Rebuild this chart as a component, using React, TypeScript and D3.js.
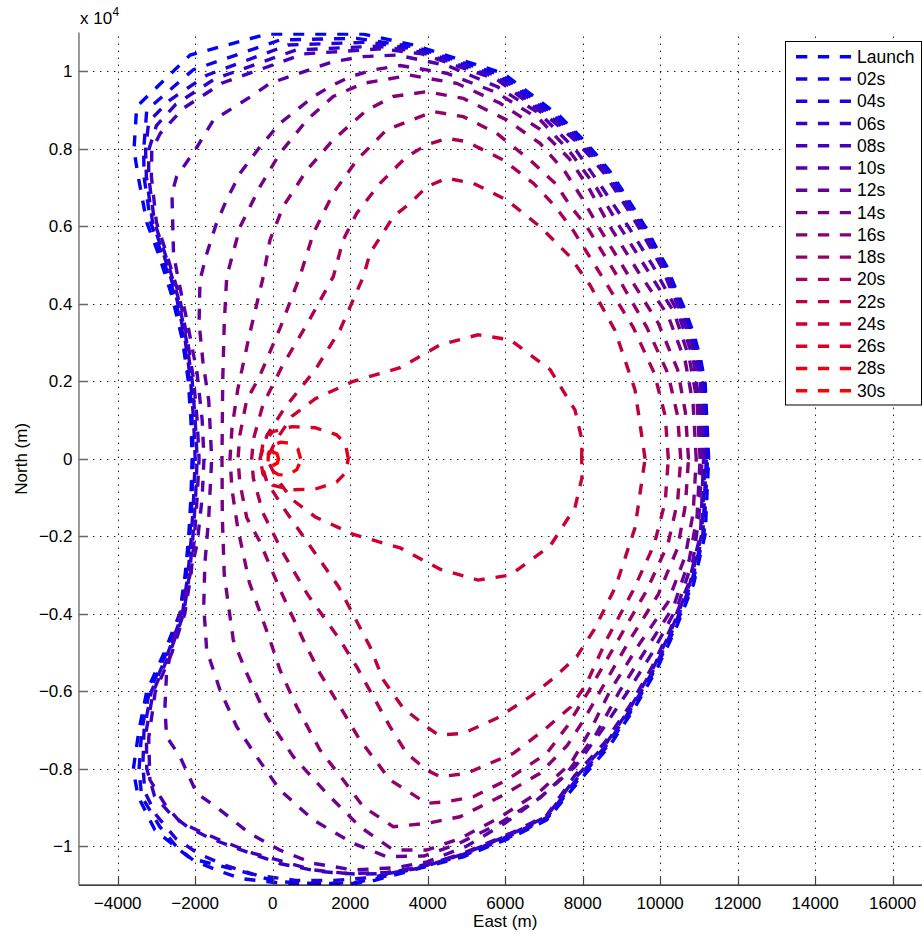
import React from "react";
import * as d3 from "d3";

type P = [number, number];

const seriesNames = ["Launch","02s","04s","06s","08s","10s","12s","14s","16s","18s","20s","22s","24s","26s","28s","30s"];
const seriesColors = ["#0000ff","#1100ee","#2200dd","#3300cc","#4400bb","#5500aa","#660099","#770088","#880077","#990066","#aa0055","#bb0044","#cc0033","#dd0022","#ee0011","#ff0000"];

const xTicks = [-4000,-2000,0,2000,4000,6000,8000,10000,12000,14000,16000];
const xTickLabels = ["\u22124000","\u22122000","0","2000","4000","6000","8000","10000","12000","14000","16000"];
const yTicks = [-10000,-8000,-6000,-4000,-2000,0,2000,4000,6000,8000,10000];
const yTickLabels = ["\u22121","\u22120.8","\u22120.6","\u22120.4","\u22120.2","0","0.2","0.4","0.6","0.8","1"];

const launch: P[] = [[11250,0],[11160,1950],[11030,2640],[10860,3240],[10640,3850],[10380,4440],[10170,4960],[9910,5430],[9650,5930],[9340,6430],[9010,6950],[8710,7410],[8360,7840],[7980,8270],[7420,8830],[5950,9950],[3630,10680],[2340,10960],[-150,10960],[-2130,10420],[-3510,9090],[-3580,7970],[-3470,7280],[-3250,6100],[-2950,5300],[-2600,4200],[-2330,3070],[-2180,2030],[-2110,1000],[-2080,0],[-2110,-1000],[-2170,-2030],[-2260,-3000],[-2400,-4000],[-2800,-5000],[-3250,-6000],[-3450,-7000],[-3600,-8030],[-3470,-8720],[-3040,-9580],[-2130,-10310],[-930,-10610],[100,-10910],[1050,-10960],[2080,-10960],[2510,-10910],[3630,-10610],[4920,-10270],[6210,-9750],[7070,-9320],[7930,-8290],[8700,-7400],[9340,-6430],[9910,-5430],[10380,-4440],[10860,-3240],[11160,-1950]];
const s02: P[] = [[11220,0],[11130,1950],[11000,2630],[10830,3230],[10610,3840],[10350,4430],[10140,4950],[9880,5420],[9620,5920],[9310,6420],[8980,6930],[8680,7390],[8330,7820],[7950,8250],[7380,8800],[5900,9900],[3700,10620],[2170,10850],[190,10810],[-2050,10040],[-3250,9000],[-3330,7970],[-3320,7280],[-3150,6100],[-2870,5300],[-2530,4200],[-2290,3070],[-2150,2030],[-2080,1000],[-2050,0],[-2080,-1000],[-2140,-2030],[-2230,-3000],[-2360,-4000],[-2740,-5000],[-3180,-6000],[-3380,-7000],[-3450,-8030],[-3380,-8720],[-2910,-9500],[-2480,-10010],[-2050,-10360],[-1450,-10610],[-840,-10830],[200,-10950],[1050,-10960],[2080,-10940],[2600,-10850],[3630,-10580],[4920,-10240],[6210,-9720],[7070,-9290],[7900,-8260],[8670,-7380],[9310,-6420],[9880,-5420],[10350,-4430],[10830,-3230],[11130,-1950]];
const s04: P[] = [[11190,0],[11100,1950],[10970,2620],[10800,3220],[10580,3830],[10320,4420],[10110,4940],[9850,5410],[9590,5900],[9280,6400],[8950,6910],[8650,7370],[8300,7800],[7920,8230],[7340,8770],[5870,9860],[3750,10560],[2500,10750],[400,10680],[-1700,9900],[-2650,9260],[-3200,8700],[-3280,7970],[-3260,7280],[-3100,6100],[-2820,5300],[-2490,4200],[-2260,3070],[-2120,2030],[-2040,1000],[-2000,0],[-2040,-1000],[-2100,-2030],[-2190,-3000],[-2330,-4000],[-2700,-5000],[-3130,-6000],[-3320,-7000],[-3350,-7900],[-3300,-8600],[-3000,-9200],[-2500,-9800],[-1900,-10200],[-1200,-10500],[-400,-10750],[600,-10880],[1600,-10880],[2600,-10800],[3630,-10550],[4920,-10210],[6210,-9690],[7070,-9260],[7870,-8230],[8640,-7360],[9280,-6400],[9850,-5410],[10320,-4420],[10800,-3220],[11100,-1950]];
const s06: P[] = [[11160,0],[11070,1950],[10940,2610],[10770,3210],[10550,3820],[10290,4410],[10080,4930],[9820,5400],[9560,5890],[9250,6390],[8920,6890],[8620,7350],[8270,7780],[7880,8200],[7290,8730],[5830,9820],[3800,10500],[2700,10650],[600,10550],[-1500,9800],[-2500,9150],[-3000,8600],[-3200,7970],[-3200,7280],[-3050,6100],[-2780,5300],[-2450,4200],[-2230,3070],[-2080,2030],[-2000,1000],[-1950,0],[-1990,-1000],[-2060,-2030],[-2150,-3000],[-2300,-4000],[-2650,-5000],[-3080,-6000],[-3260,-7000],[-3250,-8000],[-3050,-8700],[-2650,-9150],[-2200,-9500],[-1600,-9800],[-800,-10100],[200,-10450],[1200,-10650],[2200,-10720],[3000,-10700],[3800,-10560],[4920,-10200],[6210,-9660],[7070,-9230],[7840,-8200],[8610,-7340],[9250,-6390],[9820,-5400],[10290,-4410],[10770,-3210],[11070,-1950]];
const s08: P[] = [[11120,0],[11040,1950],[10910,2600],[10740,3200],[10520,3810],[10260,4400],[10050,4920],[9780,5390],[9500,5880],[9200,6380],[8880,6870],[8580,7330],[8230,7760],[7840,8180],[7250,8700],[5800,9780],[3850,10450],[2800,10580],[800,10450],[-1300,9700],[-2300,9050],[-2900,8400],[-3120,7970],[-3130,7280],[-3000,6100],[-2740,5300],[-2410,4200],[-2200,3070],[-2040,2030],[-1950,1000],[-1900,0],[-1950,-1000],[-2020,-2030],[-2110,-3000],[-2270,-4000],[-2600,-5000],[-3030,-6000],[-3200,-7200],[-3170,-8285],[-2740,-8980],[-2390,-9370],[-1960,-9580],[-1360,-9840],[-500,-10180],[1050,-10610],[1910,-10700],[2900,-10680],[3800,-10540],[4920,-10180],[6210,-9630],[7070,-9200],[7800,-8170],[8570,-7320],[9210,-6380],[9780,-5390],[10260,-4400],[10740,-3200],[11040,-1950]];
const s10: P[] = [[11080,0],[11000,1500],[10850,2600],[10450,3800],[9800,5000],[9170,6000],[8500,7000],[7800,8000],[6900,8900],[5800,9600],[4500,10150],[3200,10420],[2340,10380],[1560,10250],[-70,9690],[-500,9390],[-1530,8740],[-2000,7970],[-2480,7280],[-2600,6850],[-2560,5300],[-2450,4700],[-2200,3500],[-1950,2200],[-1820,1000],[-1773,0],[-1820,-1000],[-1950,-2200],[-2250,-3500],[-2565,-4680],[-2740,-5540],[-2780,-6400],[-2740,-7170],[-2390,-7690],[-1960,-8630],[-1360,-9060],[-590,-9670],[190,-10100],[1050,-10440],[2080,-10610],[3200,-10550],[3980,-10400],[5000,-10000],[6000,-9400],[6950,-8700],[7800,-7950],[8500,-7000],[9170,-6000],[9800,-5000],[10450,-3800],[10850,-2600],[11000,-1500]];
const s12: P[] = [[11030,0],[10950,1500],[10750,2600],[10350,3800],[9650,4900],[8950,6000],[8350,7000],[7650,7950],[6900,8750],[5780,9450],[4490,9950],[3290,10150],[2600,10035],[2000,9860],[1560,9650],[1050,9350],[620,9000],[190,8660],[-330,8050],[-840,7370],[-1190,6680],[-1450,6080],[-1700,5300],[-1876,4614],[-1900,3500],[-1800,2500],[-1650,1500],[-1574,0],[-1650,-1500],[-1750,-2700],[-1780,-3800],[-1704,-4935],[-1360,-5967],[-929,-6914],[-413,-7689],[188,-8548],[1048,-9322],[2080,-9924],[2942,-10269],[3900,-10250],[4749,-9950],[5781,-9450],[6899,-8750],[7600,-8100],[8350,-7100],[8950,-6000],[9650,-4900],[10350,-3800],[10750,-2600],[10950,-1500]];
const s14: P[] = [[10930,0],[10850,1400],[10650,2500],[10200,3700],[9450,4800],[8700,6000],[8150,7000],[7650,7750],[6900,8500],[5870,9175],[4750,9690],[3540,9900],[2340,9690],[1560,9350],[880,8740],[190,7890],[-330,7020],[-840,5990],[-1187,4700],[-1250,3500],[-1290,2000],[-1309,0],[-1300,-1500],[-1250,-3000],[-1017,-4677],[-671,-5536],[-155,-6656],[532,-7689],[1394,-8634],[2253,-9496],[3113,-10097],[3975,-10097],[4834,-9800],[5867,-9250],[6899,-8580],[7700,-7850],[8200,-7000],[8700,-6000],[9450,-4800],[10200,-3700],[10650,-2500],[10850,-1400]];
const s16: P[] = [[10730,0],[10650,1200],[10450,2300],[9950,3500],[9200,4700],[8400,6000],[8000,6700],[7550,7400],[6900,8140],[6040,8744],[4920,9300],[3975,9475],[3110,9350],[2430,9000],[1560,8230],[880,7450],[270,6510],[-70,5650],[-243,4700],[-600,3200],[-900,1800],[-1050,800],[-1102,0],[-1050,-800],[-900,-1800],[-600,-3200],[-70,-4677],[188,-5451],[619,-6398],[1221,-7515],[1822,-8290],[2339,-8979],[3113,-9496],[3975,-9408],[4834,-9238],[5867,-8721],[6899,-8117],[7600,-7400],[8050,-6700],[8450,-6000],[9200,-4700],[9950,-3500],[10450,-2300],[10650,-1200]];
const s18: P[] = [[10530,0],[10450,1100],[10200,2200],[9650,3400],[8900,4700],[8100,6000],[7700,6500],[7300,7100],[6640,7710],[5780,8400],[4920,8830],[4145,8960],[2940,8490],[2170,7710],[1560,6850],[1050,5820],[700,4700],[200,3400],[-350,2100],[-671,1518],[-850,600],[-895,0],[-850,-600],[-671,-1518],[-350,-2100],[200,-3400],[790,-4677],[1221,-5536],[1737,-6398],[2253,-7258],[3027,-8285],[3975,-8892],[4491,-8850],[5178,-8721],[6040,-8290],[7072,-7601],[7600,-6900],[8150,-6000],[8900,-4700],[9650,-3400],[10200,-2200],[10450,-1100]];
const s20: P[] = [[10210,0],[10130,1100],[9850,2200],[9300,3400],[8500,4700],[7750,5900],[7300,6500],[6730,7110],[5950,7710],[5007,8185],[4490,8270],[3975,8100],[3460,7800],[2770,7110],[2170,6340],[1820,5650],[1564,4700],[900,3500],[250,2400],[-250,1400],[-500,500],[-542,0],[-500,-500],[-250,-1400],[250,-2400],[900,-3500],[1737,-4677],[2168,-5366],[2597,-6140],[3027,-6914],[3458,-7601],[3975,-8032],[4318,-8205],[5007,-8117],[6210,-7601],[7000,-7000],[7700,-6398],[8100,-5800],[8600,-4700],[9300,-3400],[9850,-2200],[10130,-1100]];
const s22: P[] = [[9610,0],[9350,1780],[8830,3320],[8190,4480],[7670,5220],[6900,5990],[6040,6680],[5180,7110],[4490,7240],[3975,7020],[3550,6600],[3113,6250],[2511,5304],[2339,4700],[1737,3325],[1100,2300],[300,1300],[-150,600],[-328,0],[-150,-600],[300,-1300],[1000,-2300],[1700,-3300],[2511,-4850],[2855,-5709],[3371,-6440],[3975,-6914],[4275,-7129],[4920,-7085],[5781,-6698],[6641,-6140],[7243,-5665],[7846,-5108],[8300,-4400],[8850,-3300],[9350,-1780]];
const s24: P[] = [[7975,0],[7980,490],[7800,1260],[7160,2300],[6130,3070],[5300,3200],[4320,2940],[3290,2350],[2080,2000],[1100,1550],[500,1100],[100,500],[-150,0],[100,-500],[500,-1050],[1100,-1500],[2080,-1950],[3290,-2300],[4320,-2850],[5300,-3130],[6130,-3000],[7160,-2250],[7800,-1260],[7980,-490]];
const s26: P[] = [[1950,0],[1880,380],[1650,620],[1100,800],[500,830],[0,700],[-250,400],[-320,0],[-250,-400],[0,-680],[500,-800],[1100,-780],[1650,-600],[1880,-360]];
const s28: P[] = [[720,0],[650,250],[450,400],[200,430],[-20,330],[-110,130],[-120,-80],[-30,-300],[150,-410],[400,-420],[620,-280],[700,-100]];
const s30: P[] = [[150,0],[110,130],[20,170],[-40,90],[-40,-80],[30,-160],[120,-110]];

const curves: P[][] = [launch, s02, s04, s06, s08, s10, s12, s14, s16, s18, s20, s22, s24, s26, s28, s30];

const FONT = "'Liberation Sans', Arial, Helvetica, sans-serif";

export default function App() {
  const W = 922, H = 934;
  const x = d3.scaleLinear().domain([-5000, 17000]).range([78.95, 931.45]);
  const y = d3.scaleLinear().domain([-11000, 11000]).range([885.05, 32.55]);
  const [x0, x1] = x.range();
  const [yb, yt] = y.range();
  const line = d3.line<P>().x(d => x(d[0])).y(d => y(d[1])).curve(d3.curveLinearClosed);

  const legX = 785.5, legY = 41.5, legW = 136, legH = 363.5;
  const rowY = (i: number) => 56.7 + i * 22.27;

  return (
    <svg width={W} height={H} style={{ position: "absolute", left: 0, top: 0, background: "#fff" }} fontFamily={FONT}>
      <rect x={0} y={0} width={W} height={H} fill="#fff" />
      <defs>
        <clipPath id="plotclip">
          <rect x={x0} y={yt} width={x1 - x0} height={yb - yt} />
        </clipPath>
      </defs>
      <g stroke="#222" strokeWidth={1} strokeDasharray="1.5 5.5">
        {xTicks.map(t => (
          <line key={"gx" + t} x1={Math.round(x(t)) + 0.5} x2={Math.round(x(t)) + 0.5} y1={yb} y2={yt} />
        ))}
        {yTicks.map(t => (
          <line key={"gy" + t} x1={x0} x2={x1} y1={Math.round(y(t)) + 0.5} y2={Math.round(y(t)) + 0.5} />
        ))}
      </g>
      <g clipPath="url(#plotclip)" fill="none" strokeWidth={3.4} strokeDasharray="11 11">
        {curves.map((c, i) => (
          <path key={seriesNames[i]} d={line(c) || ""} stroke={seriesColors[i]} />
        ))}
      </g>
      <line x1={x0} x2={x1} y1={yb} y2={yb} stroke="#000" strokeWidth={1.2} />
      <line x1={x0} x2={x0} y1={yb} y2={yt} stroke="#777" strokeWidth={1.5} />
      {xTicks.map(t => (
        <line key={"tx" + t} x1={Math.round(x(t)) + 0.5} x2={Math.round(x(t)) + 0.5} y1={yb} y2={yb - 9} stroke="#444" strokeWidth={1.2} />
      ))}
      {yTicks.map(t => (
        <line key={"ty" + t} x1={x0} x2={x0 + 9} y1={Math.round(y(t)) + 0.5} y2={Math.round(y(t)) + 0.5} stroke="#666" strokeWidth={1.5} />
      ))}
      <g fontSize={17} fill="#000">
        {xTicks.map((t, i) => (
          <text key={"lx" + t} x={x(t)} y={908.5} textAnchor="middle">{xTickLabels[i]}</text>
        ))}
        {yTicks.map((t, i) => (
          <text key={"ly" + t} x={72.5} y={y(t) + 6} textAnchor="end">{yTickLabels[i]}</text>
        ))}
      </g>
      <text x={80} y={24} fontSize={17} fill="#000">x 10</text>
      <text x={112.5} y={16} fontSize={12} fill="#000">4</text>
      <text x={(x0 + x1) / 2} y={926.5} fontSize={17} textAnchor="middle" fill="#000">East (m)</text>
      <text transform={`translate(26.5,${y(0)}) rotate(-90)`} fontSize={17} textAnchor="middle" fill="#000">North (m)</text>
      <rect x={legX} y={legY} width={legW} height={legH} fill="#fff" stroke="#000" strokeWidth={1} />
      {seriesNames.map((n, i) => (
        <g key={"leg" + n}>
          <line x1={796} x2={851} y1={rowY(i)} y2={rowY(i)} stroke={seriesColors[i]} strokeWidth={3.4} strokeDasharray="11.3 10.6" />
          <text x={857} y={rowY(i) + 6} fontSize={17.5} fill="#000">{n}</text>
        </g>
      ))}
    </svg>
  );
}
